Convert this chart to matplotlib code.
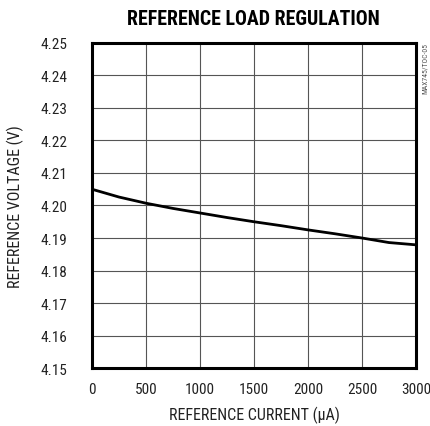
import matplotlib
matplotlib.use("Agg")
import matplotlib.pyplot as plt

plt.rcParams['font.family'] = ['Roboto Condensed', 'DejaVu Sans']

current = [0, 250, 500, 750, 1000, 1250, 1500, 1750, 2000, 2250, 2500, 2750, 3000]
voltage = [4.2050, 4.2026, 4.2007, 4.1991, 4.1977, 4.1963, 4.1950, 4.1938, 4.1925, 4.1913, 4.1900, 4.1886, 4.1879]

xticks = [0, 500, 1000, 1500, 2000, 2500, 3000]
yticks = [4.15, 4.16, 4.17, 4.18, 4.19, 4.20, 4.21, 4.22, 4.23, 4.24, 4.25]

fig = plt.figure(figsize=(4.31, 4.27), dpi=100)
ax = fig.add_axes([0.2135, 0.1358, 0.7515, 0.7612])

ax.plot(current, voltage, color='black', linewidth=2.0)

ax.set_xlim(0, 3000)
ax.set_ylim(4.15, 4.25)
ax.set_xticks(xticks)
ax.set_yticks(yticks)
ax.set_yticklabels(['%.2f' % v for v in yticks])
ax.grid(True, color='#555555', linewidth=0.8)
ax.tick_params(length=0, labelsize=11, colors='#222222')
ax.tick_params(axis='y', pad=18)
ax.tick_params(axis='x', pad=10)
for s in ax.spines.values():
    s.set_linewidth(2.2)

ax.set_xlabel('REFERENCE CURRENT (μA)', fontsize=11.5, color='#222222')
ax.set_ylabel('REFERENCE VOLTAGE (V)', fontsize=11.5, color='#222222')
ax.xaxis.set_label_coords(0.5, -0.115)
ax.yaxis.set_label_coords(-0.21, 0.5)

fig.text(0.589, 0.955, 'REFERENCE LOAD REGULATION', fontsize=14.3, fontweight='bold',
         ha='center', va='center')

fig.text(0.986, 0.899, 'MAX745/TOC-05', rotation=90, fontsize=5.5, color='#555555',
         ha='center', va='top')

fig.savefig('out.png', dpi=100)
